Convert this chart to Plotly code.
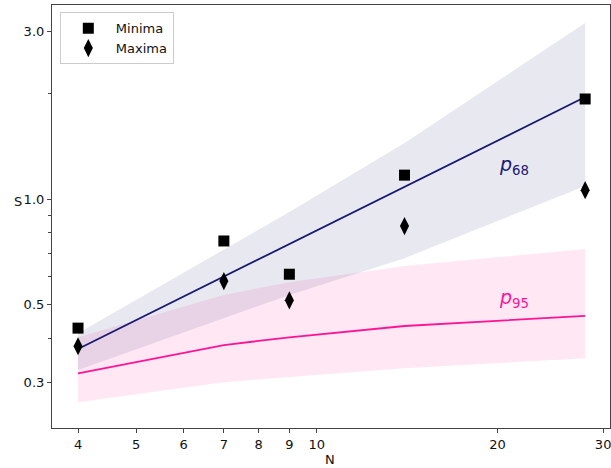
import plotly.graph_objects as go
import math

# Data
N = [4, 7, 9, 14, 28]
minima = [0.428, 0.759, 0.61, 1.17, 1.93]
maxima = [0.38, 0.583, 0.514, 0.837, 1.06]

p68 = [0.373, 0.601, 0.743, 1.083, 1.955]
p68_lo = [0.325, 0.457, 0.532, 0.678, 1.09]
p68_hi = [0.414, 0.715, 0.918, 1.445, 3.18]

p95 = [0.318, 0.383, 0.403, 0.434, 0.464]
p95_lo = [0.263, 0.300, 0.310, 0.329, 0.351]
p95_hi = [0.403, 0.532, 0.579, 0.644, 0.720]

xticks = [4, 5, 6, 7, 8, 9, 10, 20, 30]
yticks = [0.3, 0.5, 1.0, 3.0]
yticklabels = ["0.3", "0.5", "1.0", "3.0"]
yminor = [0.4, 0.6, 0.7, 0.8, 0.9, 2.0]

NAVY = "#191970"
PINK = "#ff1493"

fig = go.Figure()

fig.add_trace(go.Scatter(x=N + N[::-1], y=p95_hi + p95_lo[::-1], fill="toself",
                         fillcolor="rgba(255,20,147,0.1)", line=dict(width=0),
                         mode="lines", showlegend=False, hoverinfo="skip"))
fig.add_trace(go.Scatter(x=N + N[::-1], y=p68_hi + p68_lo[::-1], fill="toself",
                         fillcolor="rgba(25,25,112,0.1)", line=dict(width=0),
                         mode="lines", showlegend=False, hoverinfo="skip"))
fig.add_trace(go.Scatter(x=N, y=p68, mode="lines", line=dict(color=NAVY, width=1.8),
                         showlegend=False))
fig.add_trace(go.Scatter(x=N, y=p95, mode="lines", line=dict(color=PINK, width=1.8),
                         showlegend=False))
fig.add_trace(go.Scatter(x=N, y=minima, mode="markers", name="Minima",
                         marker=dict(symbol="square", size=11, color="black")))
fig.add_trace(go.Scatter(x=N, y=maxima, mode="markers", name="Maxima",
                         marker=dict(symbol="diamond-tall", size=13, color="black")))

fig.add_annotation(x=math.log10(20), y=math.log10(1.25), text="<i>p</i><sub>68</sub>",
                   showarrow=False, xanchor="left", font=dict(size=19, color=NAVY))
fig.add_annotation(x=math.log10(20), y=math.log10(0.52), text="<i>p</i><sub>95</sub>",
                   showarrow=False, xanchor="left", font=dict(size=19, color=PINK))
fig.add_annotation(xref="paper", yref="paper", x=-0.072, y=0.536,
                   text="S", showarrow=False, font=dict(size=13, color="#111"))
fig.add_annotation(xref="paper", yref="paper", x=0.498, y=-0.052, yanchor="top",
                   text="N", showarrow=False, font=dict(size=13, color="#111"))

axis_common = dict(showline=True, linecolor="#444", linewidth=1.2, mirror=True,
                   ticks="outside", ticklen=4, tickwidth=1, tickcolor="#444",
                   showgrid=False, zeroline=False, automargin=False,
                   ticklabeloverflow="allow",
                   tickfont=dict(size=13, color="#111"))

fig.update_xaxes(type="log", range=[math.log10(3.62), math.log10(30.8)],
                 tickmode="array", tickvals=xticks, ticktext=[str(v) for v in xticks],
                 **axis_common)
fig.update_yaxes(type="log", range=[math.log10(0.222), math.log10(3.58)],
                 tickmode="array", tickvals=yticks, ticktext=yticklabels,
                 minor=dict(tickmode="array", tickvals=yminor, ticks="outside",
                            ticklen=2.5, tickcolor="#444", showgrid=False),
                 **axis_common)

fig.update_layout(
    width=611, height=468,
    margin=dict(l=52, r=1, t=5, b=40),
    plot_bgcolor="white", paper_bgcolor="white",
    font=dict(family="DejaVu Sans", size=13, color="#111"),
    legend=dict(x=0.014, y=0.983, xanchor="left", yanchor="top",
                bordercolor="#cccccc", borderwidth=1, bgcolor="rgba(255,255,255,0.8)",
                font=dict(size=13), itemwidth=45),
)

fig.write_html("out.html", config={"displayModeBar": False},
               post_script="document.body.style.margin='0';document.body.style.padding='0';")
